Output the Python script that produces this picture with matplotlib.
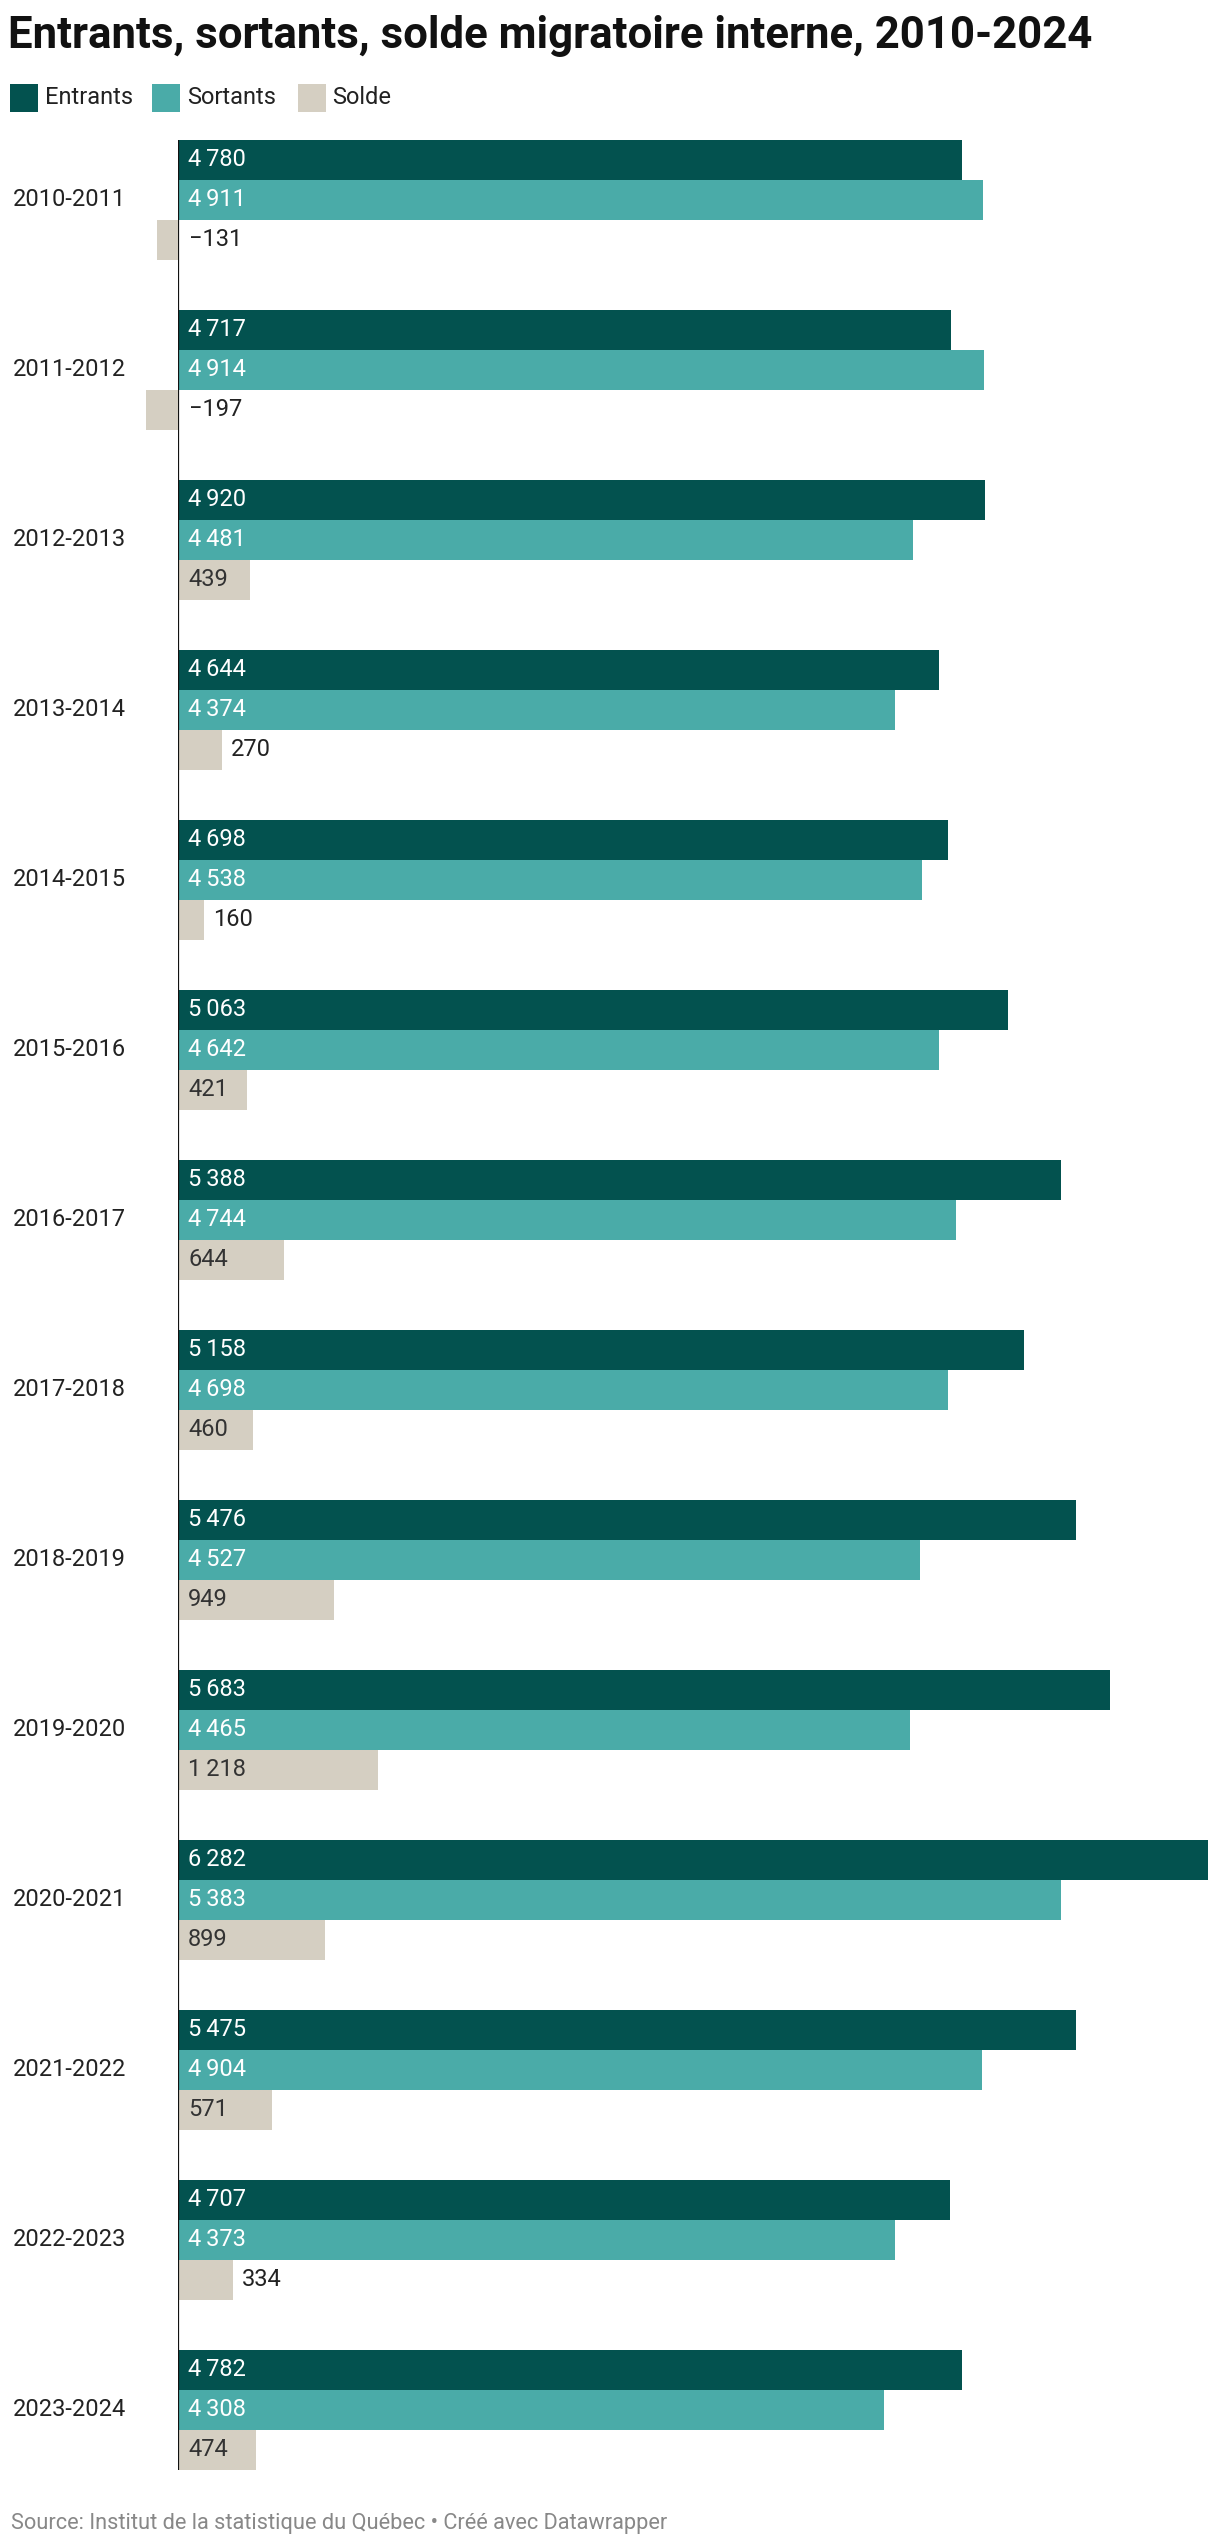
import matplotlib
matplotlib.use("Agg")
import matplotlib.pyplot as plt
from matplotlib.patches import Rectangle

plt.rcParams['font.family'] = ['Roboto', 'DejaVu Sans']

periods = ["2010-2011", "2011-2012", "2012-2013", "2013-2014", "2014-2015",
           "2015-2016", "2016-2017", "2017-2018", "2018-2019", "2019-2020",
           "2020-2021", "2021-2022", "2022-2023", "2023-2024"]
entrants = [4780, 4717, 4920, 4644, 4698, 5063, 5388, 5158, 5476, 5683, 6282, 5475, 4707, 4782]
sortants = [4911, 4914, 4481, 4374, 4538, 4642, 4744, 4698, 4527, 4465, 5383, 4904, 4373, 4308]
solde = [-131, -197, 439, 270, 160, 421, 644, 460, 949, 1218, 899, 571, 334, 474]
series_names = ["Entrants", "Sortants", "Solde"]
colors = ["#03524F", "#4AABA8", "#D5CFC2"]
label_colors = ["white", "white", "#333333"]

W, H = 1220, 2546
fig = plt.figure(figsize=(W / 100, H / 100), dpi=100)

# axes geometry in px
ax_left, ax_right = 178, 1208
ax_top, ax_bottom = 140, 2470
ax = fig.add_axes([ax_left / W, 1 - ax_bottom / H, (ax_right - ax_left) / W, (ax_bottom - ax_top) / H])

pitch = 170.0
bh = 40.0 / pitch
n = len(periods)
ax.set_ylim(n - 1 + 1.5 * bh, -1.5 * bh)
ax.set_xlim(0, max(entrants))
ax.axis('off')

FS = 17

def fmt(v):
    s = f"{abs(v):,}".replace(",", "\u2009")
    return ("\u2212" + s) if v < 0 else s

px_per_unit = (ax_right - ax_left) / max(entrants)
for si, vals in enumerate([entrants, sortants, solde]):
    for i, v in enumerate(vals):
        y = i + (si - 1) * bh
        ax.barh(y, v, height=bh, color=colors[si], clip_on=False, linewidth=0)
        width_px = abs(v) * px_per_unit
        if v < 0:
            ax.annotate(fmt(v), (0, y), xytext=(11, 0), textcoords='offset pixels',
                        va='center', ha='left', fontsize=FS, color='#222222')
        elif width_px > 60:
            ax.annotate(fmt(v), (0, y), xytext=(10, 0), textcoords='offset pixels',
                        va='center', ha='left', fontsize=FS, color=label_colors[si])
        else:
            ax.annotate(fmt(v), (v, y), xytext=(9, 0), textcoords='offset pixels',
                        va='center', ha='left', fontsize=FS, color='#222222')

for i, p in enumerate(periods):
    ax.annotate(p, (0, i), xycoords=('axes fraction', 'data'), xytext=(-165, 0),
                textcoords='offset pixels', va='center', ha='left', fontsize=FS, color='#222222')

ax.axvline(0, color='#111111', linewidth=1.6, zorder=5)

# title
fig.text(8 / W, 1 - 48 / H, "Entrants, sortants, solde migratoire interne, 2010-2024",
         fontsize=31.5, fontweight='bold', color='#111111', ha='left', va='baseline')

# legend
leg_sq = [10, 152, 298]
leg_tx = [45, 187, 332]
for k, name in enumerate(series_names):
    fig.add_artist(Rectangle((leg_sq[k] / W, 1 - 112 / H), 28 / W, 28 / H,
                             transform=fig.transFigure, color=colors[k], linewidth=0))
    fig.text(leg_tx[k] / W, 1 - 98 / H, name, fontsize=FS, color='#222222',
             ha='left', va='center')

fig.text(11 / W, 1 - 2524 / H, "Source: Institut de la statistique du Québec \u2022 Créé avec Datawrapper",
         fontsize=15.7, color='#888888', ha='left', va='center')

fig.savefig("out.png", dpi=100, facecolor='white')
